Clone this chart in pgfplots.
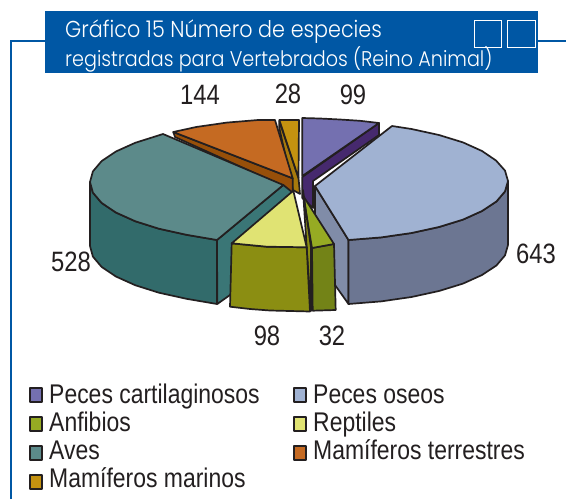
\documentclass[border=0pt]{standalone}
\usepackage{fontspec}
\setmainfont{Liberation Sans}[FakeStretch=0.85]
\newfontfamily\titlefont{Poppins Light}[FakeStretch=0.9]
\usepackage{pgfplots}
\pgfplotsset{compat=1.18}
\definecolor{ln}{HTML}{231F20}
\definecolor{frameblue}{HTML}{0057A4}
\definecolor{cPur}{HTML}{7470B0}\definecolor{cPurD}{HTML}{46296E}
\definecolor{cBlu}{HTML}{A0B2D2}\definecolor{cBluD}{HTML}{6C7692}\definecolor{cBluS}{HTML}{808CA8}
\definecolor{cGrn}{HTML}{96AB23}\definecolor{cGrnD}{HTML}{738317}
\definecolor{cYel}{HTML}{E0E373}\definecolor{cYelD}{HTML}{8B8E12}
\definecolor{cTea}{HTML}{5C8A8A}\definecolor{cTeaD}{HTML}{326B6B}\definecolor{cTeaS}{HTML}{3A7676}
\definecolor{cOra}{HTML}{C56A22}\definecolor{cOraD}{HTML}{974F09}
\definecolor{cGol}{HTML}{C49210}\definecolor{cGolD}{HTML}{A87A0C}
\pgfplotsset{slice/.style={draw=ln,line width=1.7pt,line join=round,fill=#1}}
\begin{document}
\begin{tikzpicture}
\begin{axis}[scale only axis,width=566pt,height=499pt,xmin=0,xmax=566,ymin=0,ymax=499,y dir=reverse,hide axis,clip=true]
\addplot[fill=white,draw=none] coordinates {(0,0)(566,0)(566,499)(0,499)} --cycle;
% frame
\addplot[frameblue,line width=1.2pt] coordinates {(11,499)(11,41)(46,41)};
\addplot[frameblue,line width=1.2pt] coordinates {(535,41)(566,41)};
\addplot[fill=frameblue,draw=none] coordinates {(45,11)(538,11)(538,73)(45,73)} --cycle;
% Mamiferos marinos
\addplot[slice=cGolD] coordinates {(279.3,121)(298.5,178)(300,194)(293,190)(279.3,128)} --cycle;
\addplot[slice=cGol] coordinates {(279.3,120)(299,120)(298.5,178)} --cycle;
% Mamiferos terrestres
\addplot[slice=cOraD] coordinates {(173.3,132)(292.7,178.3)(292.7,197)(283,186)(175,137)} --cycle;
\addplot[slice=cOra] coordinates {(173.3,132)(196.2,127)(226.7,122.6)(259.2,119.9)(275,120)(292.7,178.3)} --cycle;
% Peces cartilaginosos
\addplot[slice=cPurD] coordinates {(302.3,177)(379,123)(379,135)(313,181)(313,208)(302.3,198)} --cycle;
\addplot[slice=cPur] coordinates {(302.3,176)(302.3,118)(320,118.5)(340,119.5)(360,120.8)(379,123)} --cycle;
% Aves
\addplot[slice=cTeaS] coordinates {(217,240)(283.3,185)(292,192)(230,295)(217.3,304)} --cycle;
\addplot[slice=cTeaD] coordinates {(90,182)(90,246)(92.9,256.6)(101.6,266.9)(115.9,276.5)(135.2,285.2)(158.9,292.7)(186.5,298.8)(217,304)(217,240)(186.5,234.8)(158.9,228.7)(135.2,221.2)(115.9,212.5)(101.6,202.9)(92.9,192.6)} --cycle;
\addplot[slice=cTea] coordinates {(283.3,185)(163,134)(135.2,142.8)(115.9,151.5)(101.6,161.1)(92.9,171.4)(90,182)(92.9,192.6)(101.6,202.9)(115.9,212.5)(135.2,221.2)(158.9,228.7)(186.5,234.8)(217,240)} --cycle;
% Peces oseos
\addplot[slice=cBluS] coordinates {(315,186)(348.5,240)(348.5,304)(335,285)(315,250)} --cycle;
\addplot[slice=cBluD] coordinates {(508,181)(508,245)(505,255.4)(496.4,265.5)(482,275)(463,283.6)(439,291)(411.5,297)(381,301.4)(348.5,304)(348.5,240)(381,237.4)(411.5,233)(439,227)(463,219.6)(482,211)(496.4,201.5)(505,191.4)} --cycle;
\addplot[slice=cBlu] coordinates {(315,186)(392,126)(411.5,129)(439,135)(463,142.4)(482,151)(496,160.5)(505,170.6)(508,181)(505,191.4)(496.4,201.5)(482,211)(463,219.6)(439,227)(411.5,233)(381,237.4)(348.5,240)} --cycle;
% Anfibios
\addplot[slice=cGrnD] coordinates {(312,248)(334,244)(335.7,310)(312.7,310.7)} --cycle;
\addplot[slice=cGrn] coordinates {(303.3,196)(334,244)(312,248)} --cycle;
% Reptiles
\addplot[slice=cYelD] coordinates {(303,190)(311,248)(311,311)(306.7,248)} --cycle;
\addplot[slice=cYelD] coordinates {(231.7,243.3)(266.7,246.7)(306.7,247.3)(310,311.5)(270,310.5)(250,309)(230,306.7)} --cycle;
\addplot[slice=cYel] coordinates {(293.3,190.7)(231.7,243.3)(266.7,246.7)(306.7,247.3)} --cycle;
% legend swatches
\addplot[slice=cPur] coordinates {(30,388)(42,388)(42,402)(30,402)} --cycle;
\addplot[slice=cBlu] coordinates {(294,388)(306,388)(306,402)(294,402)} --cycle;
\addplot[slice=cGrn] coordinates {(30,417)(42,417)(42,431)(30,431)} --cycle;
\addplot[slice=cYel] coordinates {(294,417)(306,417)(306,431)(294,431)} --cycle;
\addplot[slice=cTea] coordinates {(30,446)(42,446)(42,460)(30,460)} --cycle;
\addplot[slice=cOra] coordinates {(294,446)(306,446)(306,460)(294,460)} --cycle;
\addplot[slice=cGol] coordinates {(30,475)(42,475)(42,489)(30,489)} --cycle;
% text
\node[anchor=base west,text=white,font=\titlefont\fontsize{23}{23}\selectfont,inner sep=0pt] at (axis cs:65,37) {Gráfico 15 Número de especies};
\node[anchor=base west,text=white,font=\titlefont\fontsize{21.3}{21.3}\selectfont,inner sep=0pt] at (axis cs:65,66) {registradas para Vertebrados (Reino Animal)};
% title squares
\addplot[white,line width=0.8pt] coordinates {(474,20)(501,20)(501,47)(474,47)} --cycle;
\addplot[white,line width=0.8pt] coordinates {(507,20)(535,20)(535,47)(507,47)} --cycle;
\tikzset{dl/.style={anchor=center,text=ln,font=\fontsize{28}{28}\selectfont,inner sep=0pt},
lg/.style={anchor=base west,text=ln,font=\fontsize{27}{27}\selectfont,inner sep=0pt}}
\node[dl] at (axis cs:200,95) {144};
\node[dl] at (axis cs:288,94) {28};
\node[dl] at (axis cs:353,95) {99};
\node[dl] at (axis cs:536,254) {643};
\node[dl] at (axis cs:332,336) {32};
\node[dl] at (axis cs:267,336) {98};
\node[dl] at (axis cs:71,262) {528};
\node[lg] at (axis cs:49,403) {Peces cartilaginosos};
\node[lg] at (axis cs:313,403) {Peces oseos};
\node[lg] at (axis cs:49,431) {Anfibios};
\node[lg] at (axis cs:313,431) {Reptiles};
\node[lg] at (axis cs:49,459) {Aves};
\node[lg] at (axis cs:313,459) {Mamíferos terrestres};
\node[lg] at (axis cs:49,487) {Mamíferos marinos};
\end{axis}
\end{tikzpicture}
\end{document}
